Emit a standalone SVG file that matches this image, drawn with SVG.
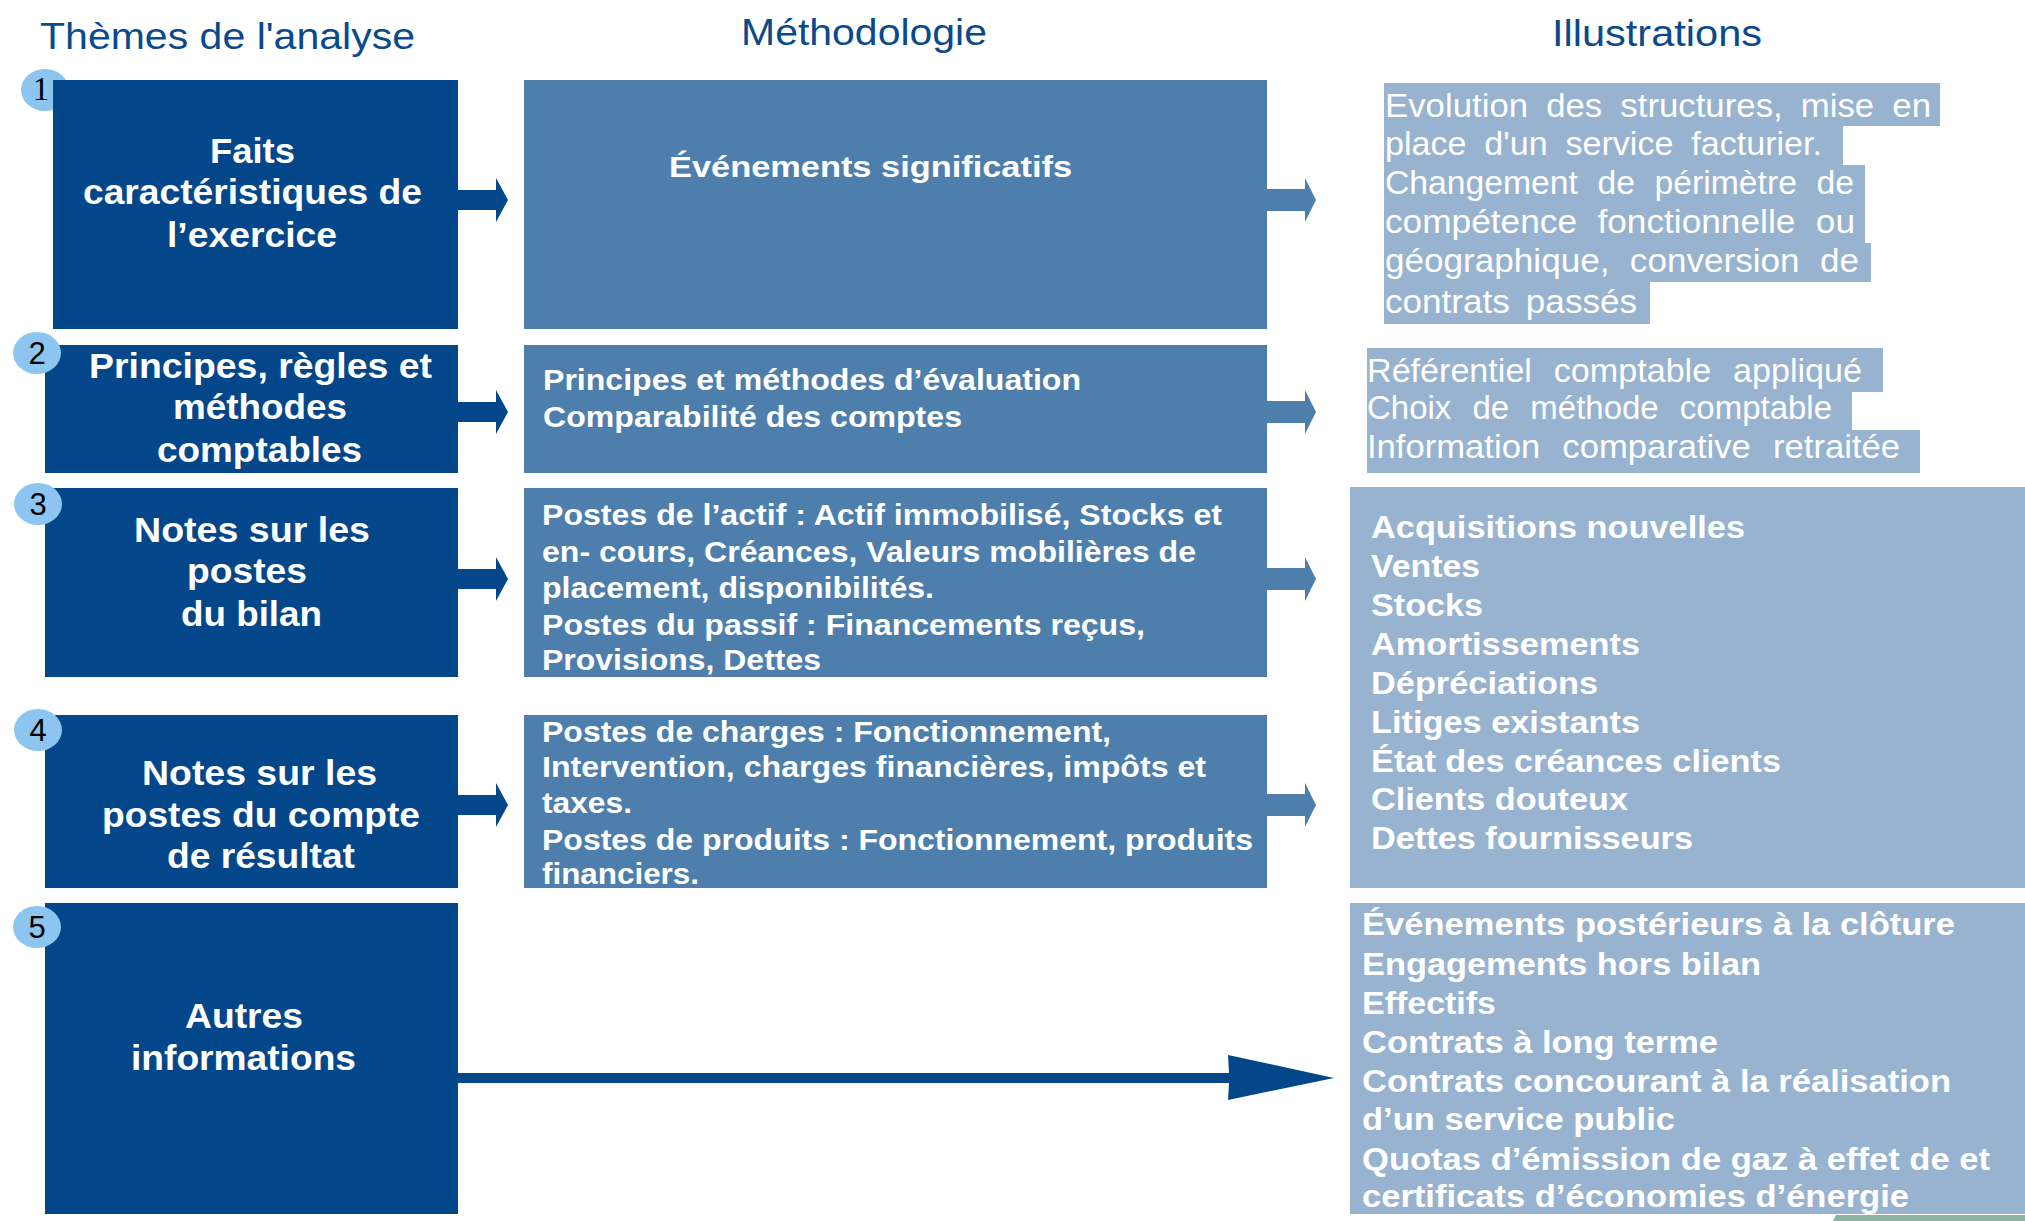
<svg xmlns="http://www.w3.org/2000/svg" width="2025" height="1221" viewBox="0 0 2025 1221">
<style>
.dk{fill:#03478a}
.md{fill:#4e7fac}
.lt{fill:#98b3cf}
.circ{fill:#8cc6f0}
.hd{font-family:"Liberation Sans",Arial,sans-serif;font-size:36px;fill:#0a4a8c}
.tl{font-family:"Liberation Sans",Arial,sans-serif;font-weight:bold;font-size:35px;fill:#fff}
.tm{font-family:"Liberation Sans",Arial,sans-serif;font-weight:bold;font-size:29px;fill:#fff}
.tr{font-family:"Liberation Sans",Arial,sans-serif;font-size:33px;fill:#fff}
.trb{font-family:"Liberation Sans",Arial,sans-serif;font-weight:bold;font-size:31px;fill:#fff}
.num{font-family:"Liberation Sans",Arial,sans-serif;font-size:31px;fill:#000;text-anchor:middle}
.num1{font-family:"Liberation Serif","Times New Roman",serif;font-size:33px;fill:#000;text-anchor:middle}
.arL{fill:#03478a}
.arM{fill:#4e7fac}
</style>
<rect width="2025" height="1221" fill="#ffffff"/>

<g id="headers">
<text class="hd" x="40" y="49" textLength="375" lengthAdjust="spacingAndGlyphs">Thèmes de l'analyse</text>
<text class="hd" x="741" y="45" textLength="246" lengthAdjust="spacingAndGlyphs">Méthodologie</text>
<text class="hd" x="1552" y="46" textLength="210" lengthAdjust="spacingAndGlyphs">Illustrations</text>
</g>

<g id="theme-1">
<ellipse class="circ" cx="45" cy="90" rx="24" ry="21"/>
<text class="num1" x="41" y="100">1</text>
<rect class="dk" x="53" y="80" width="405" height="249"/>
<text class="tl" x="210" y="163" textLength="85" lengthAdjust="spacingAndGlyphs">Faits</text>
<text class="tl" x="83" y="204" textLength="339" lengthAdjust="spacingAndGlyphs">caractéristiques de</text>
<text class="tl" x="167" y="247" textLength="170" lengthAdjust="spacingAndGlyphs">l’exercice</text>
</g>

<g id="theme-2">
<rect class="dk" x="45" y="345" width="413" height="128"/>
<ellipse class="circ" cx="37" cy="353" rx="24" ry="21"/>
<text class="num" x="37" y="364">2</text>
<text class="tl" x="89" y="378" textLength="343" lengthAdjust="spacingAndGlyphs">Principes, règles et</text>
<text class="tl" x="173" y="419" textLength="174" lengthAdjust="spacingAndGlyphs">méthodes</text>
<text class="tl" x="157" y="462" textLength="205" lengthAdjust="spacingAndGlyphs">comptables</text>
</g>

<g id="theme-3">
<rect class="dk" x="45" y="488" width="413" height="189"/>
<ellipse class="circ" cx="38" cy="504" rx="24" ry="21"/>
<text class="num" x="38" y="515">3</text>
<text class="tl" x="134" y="542" textLength="236" lengthAdjust="spacingAndGlyphs">Notes sur les</text>
<text class="tl" x="187" y="583" textLength="120" lengthAdjust="spacingAndGlyphs">postes</text>
<text class="tl" x="181" y="626" textLength="141" lengthAdjust="spacingAndGlyphs">du bilan</text>
</g>

<g id="theme-4">
<rect class="dk" x="45" y="715" width="413" height="173"/>
<ellipse class="circ" cx="38" cy="730" rx="24" ry="21"/>
<text class="num" x="38" y="741">4</text>
<text class="tl" x="142" y="785" textLength="235" lengthAdjust="spacingAndGlyphs">Notes sur les</text>
<text class="tl" x="102" y="827" textLength="318" lengthAdjust="spacingAndGlyphs">postes du compte</text>
<text class="tl" x="167" y="868" textLength="188" lengthAdjust="spacingAndGlyphs">de résultat</text>
</g>

<g id="theme-5">
<rect class="dk" x="45" y="903" width="413" height="311"/>
<ellipse class="circ" cx="37" cy="927" rx="24" ry="21"/>
<text class="num" x="37" y="938">5</text>
<text class="tl" x="185" y="1028" textLength="118" lengthAdjust="spacingAndGlyphs">Autres</text>
<text class="tl" x="131" y="1070" textLength="225" lengthAdjust="spacingAndGlyphs">informations</text>
</g>

<g id="method-1">
<rect class="md" x="524" y="80" width="743" height="249"/>
<text class="tm" x="669" y="177" textLength="403" lengthAdjust="spacingAndGlyphs">Événements significatifs</text>
</g>

<g id="method-2">
<rect class="md" x="524" y="345" width="743" height="128"/>
<text class="tm" x="543" y="390" textLength="538" lengthAdjust="spacingAndGlyphs">Principes et méthodes d’évaluation</text>
<text class="tm" x="543" y="427" textLength="419" lengthAdjust="spacingAndGlyphs">Comparabilité des comptes</text>
</g>

<g id="method-3">
<rect class="md" x="524" y="488" width="743" height="189"/>
<text class="tm" x="542" y="525" textLength="680" lengthAdjust="spacingAndGlyphs">Postes de l’actif : Actif immobilisé, Stocks et</text>
<text class="tm" x="542" y="562" textLength="654" lengthAdjust="spacingAndGlyphs">en- cours, Créances, Valeurs mobilières de</text>
<text class="tm" x="542" y="598" textLength="392" lengthAdjust="spacingAndGlyphs">placement, disponibilités.</text>
<text class="tm" x="542" y="635" textLength="603" lengthAdjust="spacingAndGlyphs">Postes du passif : Financements reçus,</text>
<text class="tm" x="542" y="670" textLength="279" lengthAdjust="spacingAndGlyphs">Provisions, Dettes</text>
</g>

<g id="method-4">
<rect class="md" x="524" y="715" width="743" height="173"/>
<text class="tm" x="542" y="742" textLength="569" lengthAdjust="spacingAndGlyphs">Postes de charges : Fonctionnement,</text>
<text class="tm" x="542" y="777" textLength="664" lengthAdjust="spacingAndGlyphs">Intervention, charges financières, impôts et</text>
<text class="tm" x="542" y="813" textLength="90" lengthAdjust="spacingAndGlyphs">taxes.</text>
<text class="tm" x="542" y="850" textLength="711" lengthAdjust="spacingAndGlyphs">Postes de produits : Fonctionnement, produits</text>
<text class="tm" x="542" y="884" textLength="157" lengthAdjust="spacingAndGlyphs">financiers.</text>
</g>

<g id="illustration-1">
<rect class="lt" x="1384" y="83" width="556" height="43"/>
<rect class="lt" x="1384" y="126" width="459" height="39"/>
<rect class="lt" x="1384" y="165" width="481" height="39"/>
<rect class="lt" x="1384" y="204" width="481" height="39"/>
<rect class="lt" x="1384" y="243" width="487" height="39"/>
<rect class="lt" x="1384" y="282" width="266" height="42"/>
<text class="tr" x="1385" y="117" word-spacing="8" textLength="546" lengthAdjust="spacingAndGlyphs">Evolution des structures, mise en</text>
<text class="tr" x="1385" y="155" word-spacing="8" textLength="437" lengthAdjust="spacingAndGlyphs">place d'un service facturier.</text>
<text class="tr" x="1385" y="194" word-spacing="10" textLength="469" lengthAdjust="spacingAndGlyphs">Changement de périmètre de</text>
<text class="tr" x="1385" y="233" word-spacing="10" textLength="470" lengthAdjust="spacingAndGlyphs">compétence fonctionnelle ou</text>
<text class="tr" x="1385" y="272" word-spacing="10" textLength="474" lengthAdjust="spacingAndGlyphs">géographique, conversion de</text>
<text class="tr" x="1385" y="313" word-spacing="6" textLength="252" lengthAdjust="spacingAndGlyphs">contrats passés</text>
</g>

<g id="illustration-2">
<rect class="lt" x="1367" y="348" width="516" height="44"/>
<rect class="lt" x="1367" y="392" width="485" height="38"/>
<rect class="lt" x="1367" y="430" width="553" height="43"/>
<text class="tr" x="1367" y="382" word-spacing="12" textLength="495" lengthAdjust="spacingAndGlyphs">Référentiel comptable appliqué</text>
<text class="tr" x="1367" y="419" word-spacing="12" textLength="465" lengthAdjust="spacingAndGlyphs">Choix de méthode comptable</text>
<text class="tr" x="1367" y="458" word-spacing="12" textLength="533" lengthAdjust="spacingAndGlyphs">Information comparative retraitée</text>
</g>

<g id="illustration-3">
<rect class="lt" x="1350" y="487" width="675" height="401"/>
<text class="trb" x="1371" y="538" textLength="374" lengthAdjust="spacingAndGlyphs">Acquisitions nouvelles</text>
<text class="trb" x="1371" y="577" textLength="109" lengthAdjust="spacingAndGlyphs">Ventes</text>
<text class="trb" x="1371" y="616" textLength="112" lengthAdjust="spacingAndGlyphs">Stocks</text>
<text class="trb" x="1371" y="655" textLength="269" lengthAdjust="spacingAndGlyphs">Amortissements</text>
<text class="trb" x="1371" y="694" textLength="227" lengthAdjust="spacingAndGlyphs">Dépréciations</text>
<text class="trb" x="1371" y="733" textLength="269" lengthAdjust="spacingAndGlyphs">Litiges existants</text>
<text class="trb" x="1371" y="772" textLength="410" lengthAdjust="spacingAndGlyphs">État des créances clients</text>
<text class="trb" x="1371" y="810" textLength="257" lengthAdjust="spacingAndGlyphs">Clients douteux</text>
<text class="trb" x="1371" y="849" textLength="322" lengthAdjust="spacingAndGlyphs">Dettes fournisseurs</text>
</g>

<g id="illustration-5">
<rect class="lt" x="1350" y="903" width="675" height="311"/>
<text class="trb" x="1362" y="935" textLength="593" lengthAdjust="spacingAndGlyphs">Événements postérieurs à la clôture</text>
<text class="trb" x="1362" y="975" textLength="399" lengthAdjust="spacingAndGlyphs">Engagements hors bilan</text>
<text class="trb" x="1362" y="1014" textLength="134" lengthAdjust="spacingAndGlyphs">Effectifs</text>
<text class="trb" x="1362" y="1053" textLength="356" lengthAdjust="spacingAndGlyphs">Contrats à long terme</text>
<text class="trb" x="1362" y="1092" textLength="589" lengthAdjust="spacingAndGlyphs">Contrats concourant à la réalisation</text>
<text class="trb" x="1362" y="1130" textLength="313" lengthAdjust="spacingAndGlyphs">d’un service public</text>
<text class="trb" x="1362" y="1170" textLength="628" lengthAdjust="spacingAndGlyphs">Quotas d’émission de gaz à effet de et</text>
<text class="trb" x="1362" y="1207" textLength="547" lengthAdjust="spacingAndGlyphs">certificats d’économies d’énergie</text>
</g>

<g id="connectors">
<polygon class="arL" points="458,190 496,190 496,178 508,200 496,222 496,210 458,210"/>
<polygon class="arL" points="458,402 496,402 496,390 508,412 496,434 496,422 458,422"/>
<polygon class="arL" points="458,569 496,569 496,557 508,579 496,601 496,589 458,589"/>
<polygon class="arL" points="458,795 496,795 496,783 508,805 496,827 496,815 458,815"/>
<polygon class="arM" points="1267,189 1305,189 1305,178 1316,200 1305,222 1305,211 1267,211"/>
<polygon class="arM" points="1267,401 1305,401 1305,390 1316,412 1305,434 1305,423 1267,423"/>
<polygon class="arM" points="1267,568 1305,568 1305,557 1316,579 1305,601 1305,590 1267,590"/>
<polygon class="arM" points="1267,794 1305,794 1305,783 1316,805 1305,827 1305,816 1267,816"/>
<polygon class="arL" points="458,1073 1229,1073 1228,1055 1334,1078 1228,1100 1229,1083 458,1083"/>
</g>

<polygon points="1833,1221 1836,1215 2025,1215 2025,1221" fill="#8fb2a4"/>
</svg>
